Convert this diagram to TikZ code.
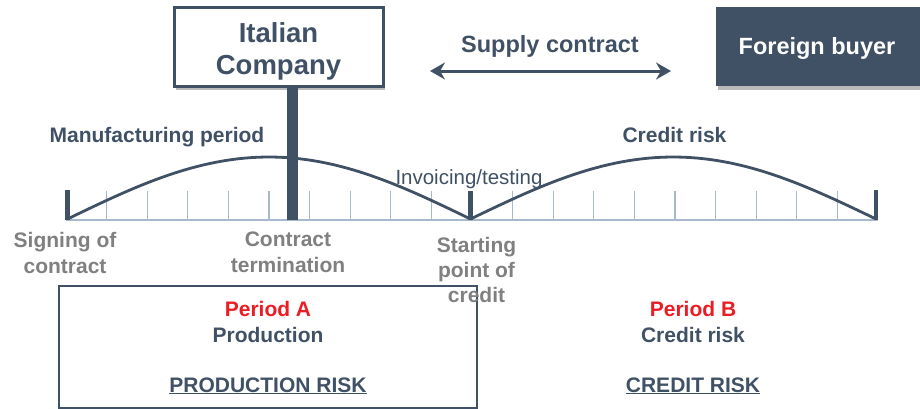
\documentclass[tikz,border=0pt]{standalone}
\usepackage{fontspec}
\setmainfont{Liberation Sans}
\usetikzlibrary{shadows,arrows.meta}
\definecolor{dk}{HTML}{405166}
\definecolor{gr}{HTML}{808080}
\definecolor{rd}{HTML}{EC1C24}
\definecolor{lt}{HTML}{A9B9CC}
\tikzset{
  lbl/.style={font=\fontsize{21}{25}\selectfont\bfseries, text=dk, inner sep=0pt, anchor=base},
  glbl/.style={font=\fontsize{21}{25}\selectfont\bfseries, text=gr, inner sep=0pt, anchor=base},
  rlbl/.style={font=\fontsize{21}{25}\selectfont\bfseries, text=rd, inner sep=0pt, anchor=base},
  thin/.style={font=\fontsize{20.5}{25}\selectfont, text=dk, inner sep=0pt, anchor=base},
  shad/.style={drop shadow={shadow xshift=2pt, shadow yshift=-4pt, opacity=0.45, fill=black!60}},
  curve/.style={draw=dk, line width=2.8pt},
  tick/.style={draw=lt, line width=1.3pt},
  bigtick/.style={draw=dk, line width=4.5pt},
}
\begin{document}
\begin{tikzpicture}[x=1pt,y=-1pt]
\useasboundingbox (0,0) rectangle (920,408);
% top boxes
\node[draw=dk, line width=3pt, fill=white, shad, minimum width=209pt, minimum height=79pt, inner sep=0pt] (it) at (278.5,46.5) {};
\node[font=\fontsize{27.5}{32}\selectfont\bfseries, text=dk, inner sep=0pt, anchor=base] (it1) at (278.5,42) {Italian};
\node[font=\fontsize{27.5}{32}\selectfont\bfseries, text=dk, inner sep=0pt, anchor=base] (it2) at (278.5,74) {Company};
\node[fill=dk, shad, minimum width=204pt, minimum height=79pt, inner sep=0pt] (fb) at (818,46.5) {};
\node[font=\fontsize{23.5}{28}\selectfont\bfseries, text=white, inner sep=0pt, anchor=base] (fbt) at (817,54) {Foreign buyer};
\node[font=\fontsize{23.5}{28}\selectfont\bfseries, text=dk, inner sep=0pt, anchor=base] (sc) at (550,52) {Supply contract};
\coordinate (al) at (430,71);
\coordinate (ar) at (671,71);
\draw[dk, line width=3pt, {Stealth[length=15pt,width=17pt,inset=5pt]}-{Stealth[length=15pt,width=17pt,inset=5pt]}] (al) -- (ar);
% axis
\coordinate (a0) at (66,220);
\coordinate (a1) at (878,220);
\foreach \k in {1,...,19} {
  \draw[tick] ({66+40.6*\k},191) -- ({66+40.6*\k},220);
}
\draw[draw=lt, line width=2pt] (a0) -- (a1);
% bar
\fill[dk] (287,86) rectangle (298,220);
\draw[bigtick] (67.5,190) -- (67.5,220);
\draw[bigtick] (470.5,191) -- (470.5,220);
\draw[bigtick] (876,190) -- (876,220);
% curves
\draw[curve, line join=round] plot[domain=0:1, samples=60] ({67.5+403*\x},{219-62*sin(180*\x)});
\draw[curve, line join=round] plot[domain=0:1, samples=60] ({470.5+405.5*\x},{219-62*sin(180*\x)});
% labels
\node[lbl] (mp) at (157,142) {Manufacturing period};
\node[lbl] (cr) at (674.5,142) {Credit risk};
\node[thin] (inv) at (469,184) {Invoicing/testing};
\node[glbl] (s1) at (65,247) {Signing of};
\node[glbl] (s2) at (65,273) {contract};
\node[glbl] (c1) at (288,246) {Contract};
\node[glbl] (c2) at (288,272) {termination};
% period A box
\draw[dk, line width=2pt] (58.5,407.5) |- (476.5,285.5) -- (476.5,407.5) -- cycle;
\node[glbl] (p1) at (476.5,252) {Starting};
\node[glbl] (p2) at (476.5,277) {point of};
\node[glbl] (p3) at (476.5,302) {credit};
\node[rlbl] (pa) at (268,316) {Period A};
\node[lbl] (pr) at (268,342) {Production};
\node[lbl] (prr) at (268,392) {\underline{PRODUCTION RISK}};
\node[rlbl] (pb) at (693,316) {Period B};
\node[lbl] (crb) at (693,342) {Credit risk};
\node[lbl] (crr) at (693,392) {\underline{CREDIT RISK}};
\end{tikzpicture}
\end{document}
